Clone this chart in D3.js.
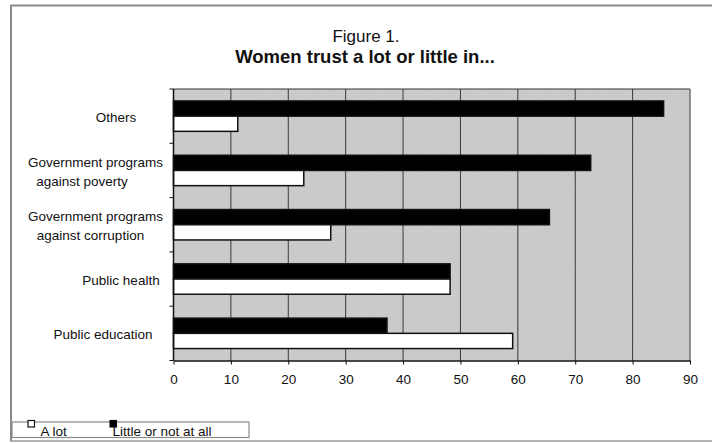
<!DOCTYPE html>
<html>
<head>
<meta charset="utf-8">
<script src="https://cdn.jsdelivr.net/npm/d3@7"></script>
<style>
  html, body { margin: 0; padding: 0; background: #fff; }
  svg { display: block; font-family: "Liberation Sans", Arial, sans-serif; }
</style>
</head>
<body>
<svg id="chart" width="712" height="443"></svg>
<script>
// Categories, top to bottom
const categories = [
  "Others",
  "Government programs against poverty",
  "Government programs against corruption",
  "Public health",
  "Public education"
];
// How each category name is broken onto lines
const categoryLines = [
  ["Others"],
  ["Government programs", "against poverty"],
  ["Government programs", "against corruption"],
  ["Public health"],
  ["Public education"]
];
const seriesNames = ["Little or not at all", "A lot"];
const littleOrNot = [85.4, 72.7, 65.5, 48.2, 37.2];
const aLot = [11.2, 22.7, 27.4, 48.2, 59.1];
const xTicks = [0, 10, 20, 30, 40, 50, 60, 70, 80, 90];

const series = [
  { name: seriesNames[0], values: littleOrNot, fill: "#000" },
  { name: seriesNames[1], values: aLot, fill: "#fff" }
];

const svg = d3.select("#chart");

// outer frame
svg.append("path")
  .attr("d", "M11,441.5 L11,5.5 L712,5.5")
  .attr("fill", "none").attr("stroke", "#8a8a8a").attr("stroke-width", 2);
svg.append("line")
  .attr("x1", 11).attr("x2", 712).attr("y1", 441).attr("y2", 441)
  .attr("stroke", "#9a9a9a").attr("stroke-width", 1.5);

// titles
svg.append("text").attr("x", 366).attr("y", 42)
  .attr("text-anchor", "middle").attr("font-size", 17).attr("fill", "#111")
  .text("Figure 1.");
svg.append("text").attr("x", 365).attr("y", 63)
  .attr("text-anchor", "middle").attr("font-size", 18.5).attr("font-weight", "bold").attr("fill", "#111")
  .text("Women trust a lot or little in...");

const plot = { left: 173.5, right: 690, top: 89, bottom: 360.5 };

const x = d3.scaleLinear().domain([0, 90]).range([plot.left, plot.right]);
const y = d3.scaleBand().domain(categories).range([plot.top, plot.bottom])
  .paddingInner(0.44).paddingOuter(0.22);
const ySub = d3.scaleBand().domain(seriesNames).range([0, y.bandwidth()]);

// plot background with a faint grain
const defs = svg.append("defs");
const grain = defs.append("filter").attr("id", "grain")
  .attr("x", 0).attr("y", 0).attr("width", 1).attr("height", 1);
grain.append("feTurbulence").attr("type", "fractalNoise")
  .attr("baseFrequency", 0.35).attr("numOctaves", 2).attr("seed", 4).attr("result", "noise");
grain.append("feColorMatrix").attr("in", "noise").attr("type", "matrix")
  .attr("values", "0 0 0 0 0.78  0 0 0 0 0.78  0 0 0 0 0.78  0 0 0 0.10 0")
  .attr("result", "tint");
grain.append("feComposite").attr("in", "tint").attr("in2", "SourceGraphic").attr("operator", "in")
  .attr("result", "spots");
grain.append("feMerge").selectAll("feMergeNode").data(["SourceGraphic", "spots"]).join("feMergeNode")
  .attr("in", d => d);

svg.append("rect")
  .attr("x", plot.left).attr("y", plot.top)
  .attr("width", plot.right - plot.left).attr("height", plot.bottom - plot.top)
  .attr("fill", "#c9c9c9").attr("filter", "url(#grain)");

// vertical gridlines
svg.append("g").selectAll("line").data(xTicks.slice(1, -1)).join("line")
  .attr("x1", d => x(d)).attr("x2", d => x(d))
  .attr("y1", plot.top).attr("y2", plot.bottom)
  .attr("stroke", "#3a3a3a").attr("stroke-width", 1);

// plot border top / right
svg.append("line").attr("x1", plot.left).attr("x2", plot.right)
  .attr("y1", plot.top).attr("y2", plot.top).attr("stroke", "#333").attr("stroke-width", 1.2);
svg.append("line").attr("x1", plot.right).attr("x2", plot.right)
  .attr("y1", plot.top).attr("y2", plot.bottom).attr("stroke", "#555").attr("stroke-width", 1.2);

// bars
const groups = svg.append("g").selectAll("g").data(categories).join("g")
  .attr("transform", d => `translate(0,${y(d)})`);
groups.selectAll("rect")
  .data((c, i) => series.map(s => ({ name: s.name, value: s.values[i], fill: s.fill })))
  .join("rect")
  .attr("x", x(0))
  .attr("y", d => ySub(d.name))
  .attr("width", d => x(d.value) - x(0))
  .attr("height", ySub.bandwidth())
  .attr("fill", d => d.fill)
  .attr("stroke", "#111").attr("stroke-width", 1.5);

// x axis
const xAxis = svg.append("g")
  .attr("transform", `translate(0,${plot.bottom})`)
  .call(d3.axisBottom(x).tickValues(xTicks).tickSize(4).tickSizeOuter(0).tickPadding(10));
xAxis.select(".domain").attr("stroke", "#111").attr("stroke-width", 1.5);
xAxis.selectAll(".tick line").attr("stroke", "#111");
xAxis.selectAll(".tick text").attr("font-size", 13.5).attr("fill", "#111")
  .attr("font-family", "Liberation Sans, Arial, sans-serif");

// y axis: line and ticks at band boundaries
const yEdges = categories.map(c => y(c) - y.step() * y.paddingOuter()).concat([plot.bottom]);
svg.append("line").attr("x1", plot.left).attr("x2", plot.left)
  .attr("y1", plot.top).attr("y2", plot.bottom).attr("stroke", "#111").attr("stroke-width", 1.5);
svg.append("g").selectAll("line").data(yEdges).join("line")
  .attr("x1", plot.left - 4).attr("x2", plot.left)
  .attr("y1", d => d).attr("y2", d => d)
  .attr("stroke", "#111");

// category labels
const labelCenter = {
  "Others": 116,
  "Government programs against poverty": [95.5, 82],
  "Government programs against corruption": [95.5, 90.5],
  "Public health": 121,
  "Public education": 103
};
categories.forEach((c, i) => {
  const lines = categoryLines[i];
  const cy = y(c) + y.bandwidth() / 2;
  const lh = 19;
  lines.forEach((ln, j) => {
    const cx = Array.isArray(labelCenter[c]) ? labelCenter[c][j] : labelCenter[c];
    svg.append("text")
      .attr("x", cx)
      .attr("y", cy + 6 + (j - (lines.length - 1) / 2) * lh)
      .attr("text-anchor", "middle")
      .attr("font-size", 13.5).attr("fill", "#111")
      .text(ln);
  });
});

// legend
const legend = svg.append("g");
legend.append("rect").attr("x", 12).attr("y", 422).attr("width", 237).attr("height", 15.5)
  .attr("fill", "#fff").attr("stroke", "#8a8a8a").attr("stroke-width", 1.2);
const legendItems = [
  { name: seriesNames[1], fill: "#fff", sx: 28, tx: 40.5 },
  { name: seriesNames[0], fill: "#000", sx: 110, tx: 112.5 }
];
legendItems.forEach(it => {
  legend.append("rect").attr("x", it.sx).attr("y", 420.5).attr("width", 6.5).attr("height", 6.5)
    .attr("fill", it.fill).attr("stroke", "#111").attr("stroke-width", 1.2);
  legend.append("text").attr("x", it.tx).attr("y", 435.5)
    .attr("font-size", 13.5).attr("fill", "#111").text(it.name);
});
</script>
</body>
</html>
